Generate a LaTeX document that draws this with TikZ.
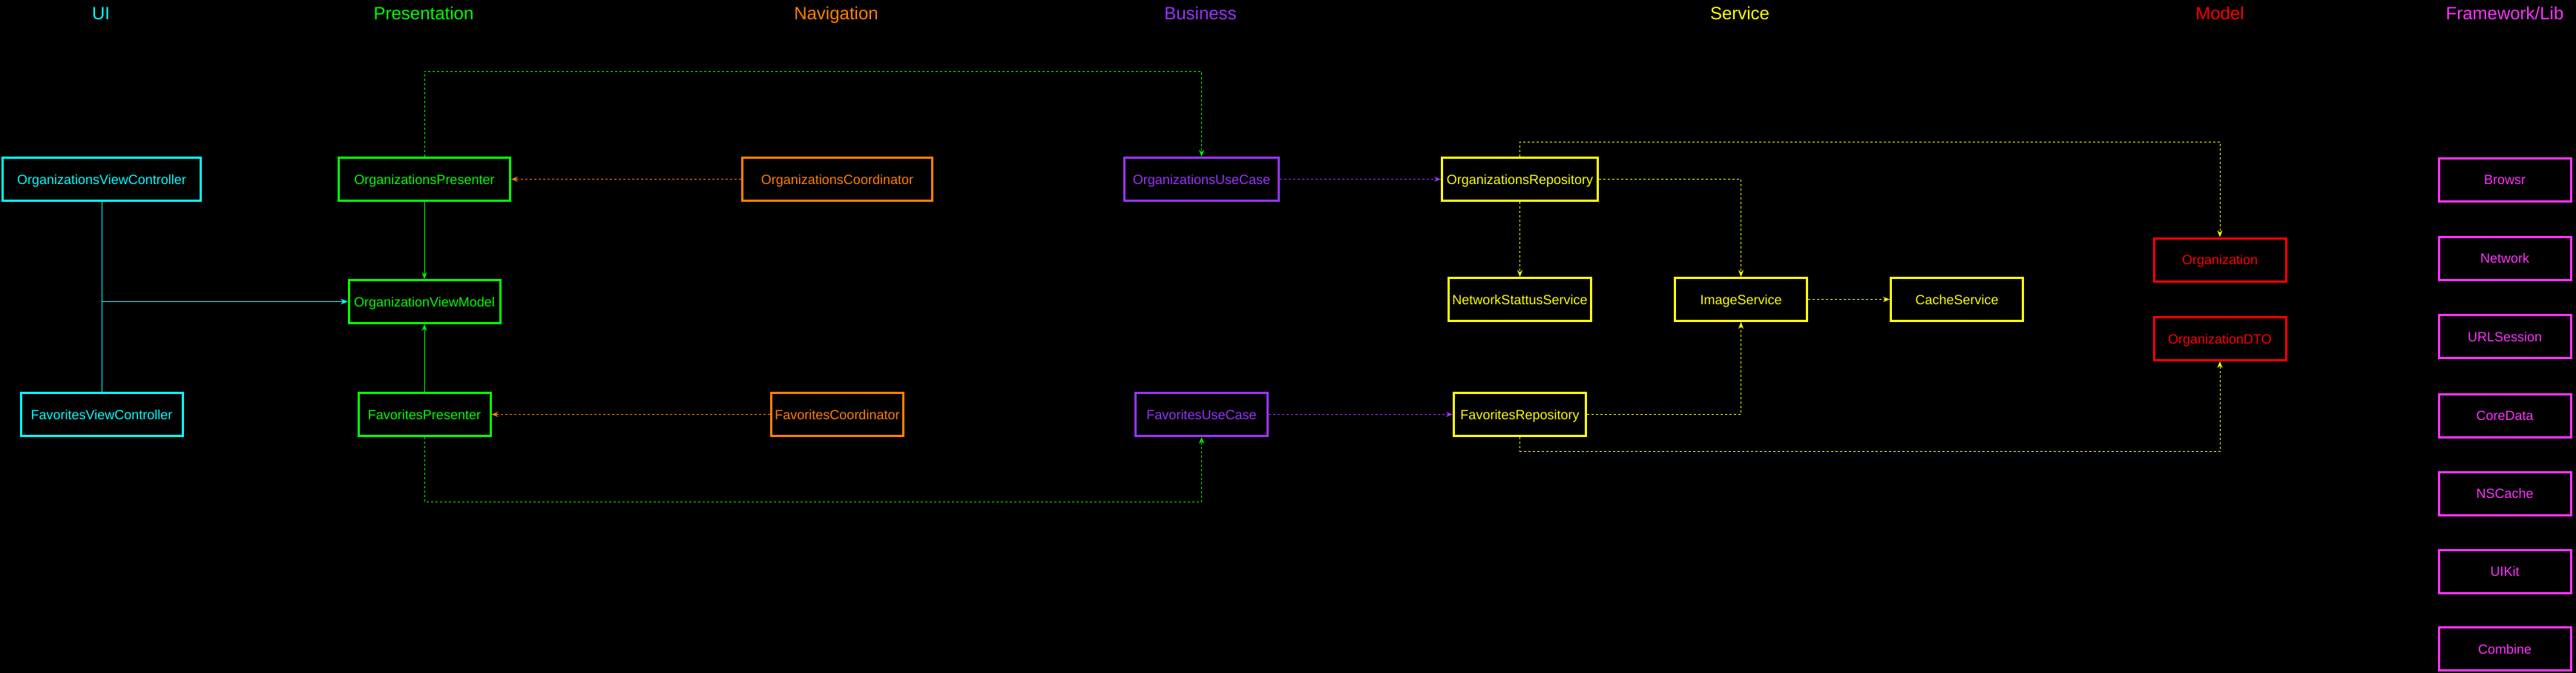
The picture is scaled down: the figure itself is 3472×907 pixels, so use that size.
\documentclass[tikz,border=0pt]{standalone}
\usepackage{fontspec}
\setmainfont{Liberation Sans}
\usetikzlibrary{arrows.meta}
\definecolor{cUI}{HTML}{00FFFF}
\definecolor{cPres}{HTML}{00FF00}
\definecolor{cNav}{HTML}{FF8000}
\definecolor{cBus}{HTML}{9933FF}
\definecolor{cServ}{HTML}{FFFF00}
\definecolor{cModel}{HTML}{FF0000}
\definecolor{cLib}{HTML}{FF33FF}
\begin{document}
\begin{tikzpicture}[x=1pt,y=-1pt,
  box/.style={draw, line width=3pt, minimum height=58pt, inner sep=0pt, text height=13pt, text depth=0pt, font=\fontsize{18}{20}\selectfont},
  title/.style={inner sep=0pt, anchor=base, font=\fontsize{24}{28}\selectfont},
  conn/.style={line width=1pt, -{Stealth[length=9pt,width=7pt,inset=3pt]}},
  dconn/.style={conn, dash pattern=on 3pt off 3pt}]
\fill[black] (0,0) rectangle (3472,907);
\useasboundingbox (0,0) rectangle (3472,907);

% titles
\node[title, text=cUI] (tUI) at (136,27) {UI};
\node[title, text=cPres] (tPres) at (571,27) {Presentation};
\node[title, text=cNav] (tNav) at (1127,27) {Navigation};
\node[title, text=cBus] (tBus) at (1618,27) {Business};
\node[title, text=cServ] (tServ) at (2345,27) {Service};
\node[title, text=cModel] (tModel) at (2992,27) {Model};
\node[title, text=cLib] (tLib) at (3376,27) {Framework/Lib};

% UI
\node[box, draw=cUI, text=cUI, minimum width=267pt] (ovc) at (137,241.5) {OrganizationsViewController};
\node[box, draw=cUI, text=cUI, minimum width=218pt] (fvc) at (137,558.5) {FavoritesViewController};
% Presentation
\node[box, draw=cPres, text=cPres, minimum width=231pt] (op) at (572,241.5) {OrganizationsPresenter};
\node[box, draw=cPres, text=cPres, minimum width=204pt] (vm) at (572,406.5) {OrganizationViewModel};
\node[box, draw=cPres, text=cPres, minimum width=178pt] (fp) at (572,558.5) {FavoritesPresenter};
% Navigation
\node[box, draw=cNav, text=cNav, minimum width=256pt] (oc) at (1128.5,241.5) {OrganizationsCoordinator};
\node[box, draw=cNav, text=cNav, minimum width=178pt] (fc) at (1128.5,558.5) {FavoritesCoordinator};
% Business
\node[box, draw=cBus, text=cBus, minimum width=208pt] (ouc) at (1619.5,241.5) {OrganizationsUseCase};
\node[box, draw=cBus, text=cBus, minimum width=178pt] (fuc) at (1619.5,558.5) {FavoritesUseCase};
% Service
\node[box, draw=cServ, text=cServ, minimum width=210pt] (orp) at (2048.5,241.5) {OrganizationsRepository};
\node[box, draw=cServ, text=cServ, minimum width=192pt] (nss) at (2048.5,403.5) {NetworkStattusService};
\node[box, draw=cServ, text=cServ, minimum width=178pt] (img) at (2346.5,403.5) {ImageService};
\node[box, draw=cServ, text=cServ, minimum width=178pt] (cache) at (2637.5,403.5) {CacheService};
\node[box, draw=cServ, text=cServ, minimum width=178pt] (frp) at (2048.5,558.5) {FavoritesRepository};
% Model
\node[box, draw=cModel, text=cModel, minimum width=178pt] (org) at (2992,350) {Organization};
\node[box, draw=cModel, text=cModel, minimum width=178pt] (dto) at (2992,456.5) {OrganizationDTO};
% Framework/Lib
\node[box, draw=cLib, text=cLib, minimum width=178pt] (fw1) at (3376,242) {Browsr};
\node[box, draw=cLib, text=cLib, minimum width=178pt] (fw2) at (3376,348) {Network};
\node[box, draw=cLib, text=cLib, minimum width=178pt] (fw3) at (3376,453.5) {URLSession};
\node[box, draw=cLib, text=cLib, minimum width=178pt] (fw4) at (3376,560) {CoreData};
\node[box, draw=cLib, text=cLib, minimum width=178pt] (fw5) at (3376,665) {NSCache};
\node[box, draw=cLib, text=cLib, minimum width=178pt] (fw6) at (3376,770) {UIKit};
\node[box, draw=cLib, text=cLib, minimum width=178pt] (fw7) at (3376,874.5) {Combine};

% routing coordinates
\coordinate (gtop) at (0,96);
\coordinate (gbot) at (0,676);
\coordinate (ytop) at (0,191);
\coordinate (ybot) at (0,608);

% UI -> ViewModel
\draw[conn, cUI] (ovc.south) |- (vm.west);
\draw[conn, cUI] (fvc.north) |- (vm.west);
% Presenters -> ViewModel
\draw[conn, cPres] (op.south) -- (vm.north);
\draw[conn, cPres] (fp.north) -- (vm.south);
% Coordinators -> Presenters
\draw[dconn, cNav] (oc.west) -- (op.east);
\draw[dconn, cNav] (fc.west) -- (fp.east);
% Presenters -> UseCases
\draw[dconn, cPres] (op.north) -- (op.north |- gtop) -| (ouc.north);
\draw[dconn, cPres] (fp.south) -- (fp.south |- gbot) -| (fuc.south);
% UseCases -> Repositories
\draw[dconn, cBus] (ouc.east) -- (orp.west);
\draw[dconn, cBus] (fuc.east) -- (frp.west);
% Repositories -> services / models
\draw[dconn, cServ] (orp.south) -- (nss.north);
\draw[dconn, cServ] (orp.east) -| (img.north);
\draw[dconn, cServ] (frp.east) -| (img.south);
\draw[dconn, cServ] (img.east) -- (cache.west);
\draw[dconn, cServ] (orp.north) -- (orp.north |- ytop) -| (org.north);
\draw[dconn, cServ] (frp.south) -- (frp.south |- ybot) -| (dto.south);
\end{tikzpicture}
\end{document}
